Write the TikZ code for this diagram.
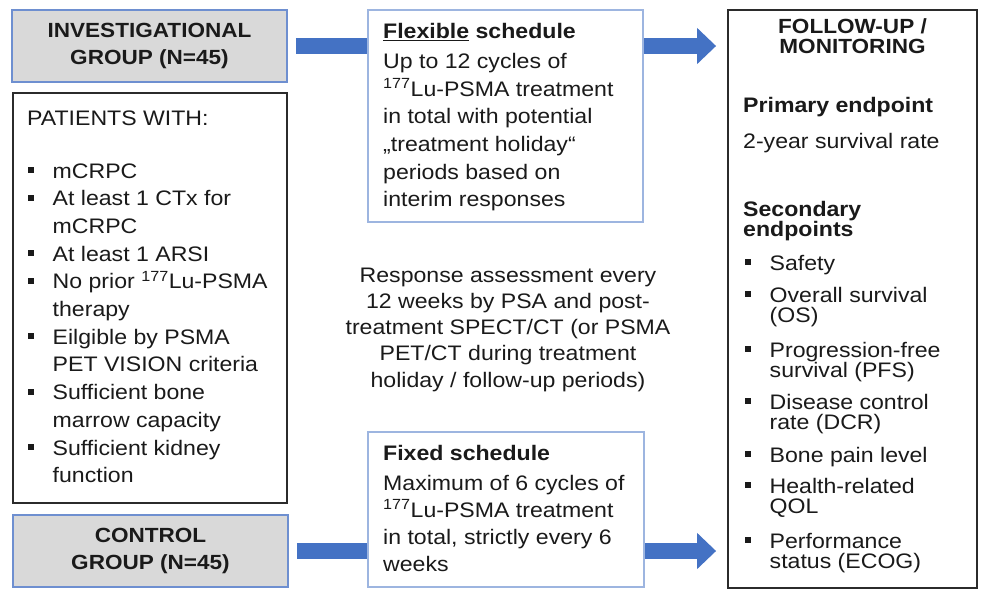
\documentclass[tikz,border=0pt]{standalone}
\usepackage{fontspec}
\setmainfont{Liberation Sans}[FakeStretch=1.1]
\usetikzlibrary{arrows.meta,backgrounds}
\definecolor{arrowblue}{HTML}{4472C4}
\definecolor{grayfill}{HTML}{D9D9D9}
\definecolor{boxblue}{HTML}{6E8FD0}
\definecolor{lightblue}{HTML}{9DB5E0}
\definecolor{txt}{HTML}{1A1A1A}
\definecolor{frame}{HTML}{2B2B2B}
\newcommand\bsq{\rule[5pt]{6pt}{6pt}}
\newcommand\bi{\makebox[24.5pt][l]{\bsq}}
\newcommand\ci{\hspace*{24.5pt}}
\newcommand\paraL[3]{\vtop{\hsize=#1\parindent=0pt\baselineskip=#2\lineskiplimit=-30pt\lineskip=0pt\raggedright #3\par}}
\newcommand\paraC[3]{\vtop{\hsize=#1\parindent=0pt\baselineskip=#2\lineskiplimit=-30pt\lineskip=0pt\centering #3\par}}
\begin{document}
\begin{tikzpicture}[x=1pt,y=-1pt,
  groupbox/.style={draw=boxblue, line width=1.5pt, fill=grayfill, align=center, inner sep=0,
    text=txt, font=\fontsize{20.5}{27}\selectfont\bfseries},
  schedbox/.style={draw=lightblue, line width=1.5pt, fill=white, inner sep=0},
  framebox/.style={draw=frame, line width=1.8pt, fill=white, inner sep=0},
  txtnode/.style={inner sep=0, anchor=base west, text=txt, font=\fontsize{21}{27.7}\selectfont},
  ctxt/.style={inner sep=0, anchor=base, text=txt, font=\fontsize{21}{27.7}\selectfont},
  boldtxt/.style={txtnode, font=\fontsize{21}{27.7}\selectfont\bfseries},
  fatarrow/.style={draw=arrowblue, line width=16pt, -{Triangle[length=19pt,width=35pt]}}
]
\useasboundingbox (0,0) rectangle (986,598);

% boxes
\node[groupbox, minimum width=275pt, minimum height=72pt] (inv) at (149.5,46) {INVESTIGATIONAL\\GROUP (N=45)};
\node[framebox, minimum width=274pt, minimum height=410pt] (pat) at (150,298) {};
\node[groupbox, minimum width=275pt, minimum height=72pt] (ctrl) at (150.5,551) {CONTROL\\GROUP (N=45)};
\node[schedbox, minimum width=275pt, minimum height=212pt] (flex) at (505.5,116) {};
\node[schedbox, minimum width=276pt, minimum height=155pt] (fixed) at (506,509.5) {};
\node[framebox, minimum width=249pt, minimum height=578pt] (fu) at (852.5,299) {};

% arrows
\coordinate (a1s) at ([xshift=8pt]inv.east);
\path (fu.west |- a1s) ++(-11,0) coordinate (a1e);
\coordinate (a2s) at ([xshift=8pt]ctrl.east);
\path (fu.west |- a2s) ++(-11,0) coordinate (a2e);
\begin{scope}[on background layer]
  \draw[fatarrow] (a1s) -- (a1e);
  \draw[fatarrow] (a2s) -- (a2e);
\end{scope}

% patients
\node[txtnode] (pattitle) at (27,125) {PATIENTS WITH:};
\node[txtnode] (patlist) at (28,178) {\paraL{255pt}{27.7pt}{\bi mCRPC\\
\bi At least 1 CTx for\\ \ci mCRPC\\
\bi At least 1 ARSI\\
\bi No prior \textsuperscript{177}Lu-PSMA\\ \ci therapy\\
\bi Eilgible by PSMA\\ \ci PET VISION criteria\\
\bi Sufficient bone\\ \ci marrow capacity\\
\bi Sufficient kidney\\ \ci function}};

% schedules
\node[txtnode] (flextxt) at (383,38.3) {\paraL{255pt}{27.7pt}{\textbf{\underline{Flexible} schedule}\\[2.3pt]
Up to 12 cycles of\\ \textsuperscript{177}Lu-PSMA treatment\\ in total with potential\\ „treatment holiday“\\ periods based on\\ interim responses}};
\node[txtnode] (fixedtxt) at (383,460.7) {\paraL{255pt}{27.2pt}{\textbf{Fixed schedule}\\[2.1pt]
Maximum of 6 cycles of\\ \textsuperscript{177}Lu-PSMA treatment\\ in total, strictly every 6\\ weeks}};

% middle
\node[ctxt] (resp) at (508,282) {\paraC{400pt}{26.3pt}{Response assessment every\\ 12 weeks by PSA and post-\\ treatment SPECT/CT (or PSMA\\ PET/CT during treatment\\ holiday / follow-up periods)}};

% follow-up
\node[ctxt, font=\fontsize{20.5}{20}\selectfont\bfseries] (futitle) at (852.5,33) {\paraC{240pt}{20pt}{FOLLOW-UP /\\ MONITORING}};
\node[boldtxt] (prim) at (743,112) {Primary endpoint};
\node[txtnode] (primval) at (743,148) {2-year survival rate};
\node[boldtxt] (sec) at (743,216) {\paraL{230pt}{20pt}{Secondary\\ endpoints}};
\node[txtnode] (i1) at (745,270) {\bi Safety};
\node[txtnode] (i2) at (745,302) {\paraL{225pt}{20pt}{\bi Overall survival\\ \ci (OS)}};
\node[txtnode] (i3) at (745,357) {\paraL{225pt}{20pt}{\bi Progression-free\\ \ci survival (PFS)}};
\node[txtnode] (i4) at (745,409) {\paraL{225pt}{20pt}{\bi Disease control\\ \ci rate (DCR)}};
\node[txtnode] (i5) at (745,462) {\bi Bone pain level};
\node[txtnode] (i6) at (745,493) {\paraL{225pt}{20pt}{\bi Health-related\\ \ci QOL}};
\node[txtnode] (i7) at (745,548) {\paraL{225pt}{20pt}{\bi Performance\\ \ci status (ECOG)}};
\end{tikzpicture}
\end{document}
